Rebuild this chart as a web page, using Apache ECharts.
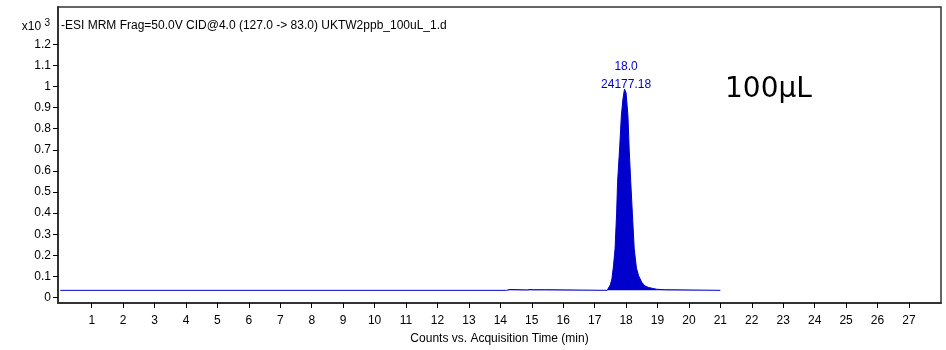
<!DOCTYPE html>
<html>
<head>
<meta charset="utf-8">
<title>MRM chromatogram</title>
<script src="https://cdn.jsdelivr.net/npm/echarts@6/dist/echarts.min.js"></script>
<style>
  html, body { margin: 0; padding: 0; background: #fff; }
  #chart { width: 946px; height: 350px; }
</style>
</head>
<body>
<div id="chart"></div>
<script>
// 色谱图数据 (x: min, y: counts x10^3)
const retTime = [0, 14.2, 14.3, 14.36, 14.85, 14.95, 15.05, 15.1, 15.43, 15.46, 17.4, 17.44, 17.5, 17.55, 17.6, 17.65, 17.7, 17.73, 17.8, 17.85, 17.9, 17.95, 18.0, 18.06, 18.1, 18.15, 18.2, 18.26, 18.33, 18.4, 18.5, 18.6, 18.71, 18.85, 18.98, 19.25, 19.3, 21.0]
const counts = [0.034, 0.034, 0.038, 0.034, 0.036, 0.038, 0.037, 0.034, 0.037, 0.034, 0.034, 0.037, 0.06, 0.088, 0.15, 0.23, 0.40, 0.545, 0.72, 0.86, 0.94, 0.988, 0.97, 0.86, 0.70, 0.545, 0.40, 0.23, 0.14, 0.103, 0.072, 0.055, 0.048, 0.043, 0.039, 0.037, 0.034, 0.034]
const baseline = 0.034
const xTicks = [1, 2, 3, 4, 5, 6, 7, 8, 9, 10, 11, 12, 13, 14, 15, 16, 17, 18, 19, 20, 21, 22, 23, 24, 25, 26, 27]
const yTicks = [0, 0.1, 0.2, 0.3, 0.4, 0.5, 0.6, 0.7, 0.8, 0.9, 1, 1.1, 1.2]
const peakRT = 18.0
const peakTop = 0.988
const peakArea = '24177.18'
const titleText = '-ESI MRM Frag=50.0V CID@4.0 (127.0 -> 83.0) UKTW2ppb_100uL_1.d'

const font = 'Liberation Sans, Arial, sans-serif'
const blue = '#0000CC'

let chart = echarts.init(document.getElementById('chart'), null, {renderer: 'canvas'})

let option = {
  backgroundColor: '#fff',
  animation: false,
  grid: {
    left: 58,
    right: 5,
    top: 7,
    bottom: 46,
    show: true,
    borderColor: '#333',
    borderWidth: 1.5,
  },
  xAxis: {
    type: 'value',
    min: -0.073,
    max: 28.02,
    name: 'Counts vs. Acquisition Time (min)',
    nameLocation: 'middle',
    nameGap: 30,
    nameTextStyle: {color: '#000', fontFamily: font, fontSize: 12},
    axisLine: {show: true, onZero: false, lineStyle: {color: '#333', width: 2}},
    axisTick: {show: true, length: 5, lineStyle: {color: '#000'}, customValues: xTicks},
    axisLabel: {color: '#000', fontFamily: font, fontSize: 12, margin: 12, customValues: xTicks},
    splitLine: {show: false},
  },
  yAxis: {
    type: 'value',
    min: -0.026,
    max: 1.377,
    axisLine: {show: true, onZero: false, lineStyle: {color: '#333', width: 2}},
    axisTick: {show: true, length: 5, lineStyle: {color: '#000'}, customValues: yTicks},
    axisLabel: {color: '#000', fontFamily: font, fontSize: 12, margin: 7, customValues: yTicks,
      formatter: v => String(Math.round(v * 10) / 10)},
    splitLine: {show: false},
  },
  graphic: [
    {
      type: 'text', right: 896, top: 18,
      style: {
        text: '{a|x10 }{b|3}',
        rich: {
          a: {fontFamily: font, fontSize: 12, fill: '#000', verticalAlign: 'bottom'},
          b: {fontFamily: font, fontSize: 10, fill: '#000', verticalAlign: 'top', padding: [0, 0, 5, 0]},
        },
      },
    },
    {
      type: 'text', left: 61, top: 20,
      style: {text: titleText, fontFamily: font, fontSize: 12, fill: '#000'},
    },
    {
      type: 'text', left: 725, top: 76,
      style: {text: '100μL', fontFamily: 'DejaVu Sans, sans-serif', fontSize: 28, fill: '#000'},
    },
  ],
  series: [
    {
      type: 'line',
      data: retTime.map((t, i) => [t, counts[i]]),
      showSymbol: false,
      symbol: 'none',
      lineStyle: {color: blue, width: 1},
      areaStyle: {color: blue, opacity: 1, origin: baseline},
      markPoint: {
        symbol: 'circle',
        symbolSize: 0,
        data: [{coord: [peakRT, peakTop]}],
        label: {
          show: true,
          position: 'top',
          distance: -5,
          color: blue,
          fontFamily: font,
          fontSize: 12,
          lineHeight: 18,
          formatter: peakRT.toFixed(1) + '\n' + peakArea,
        },
      },
    },
  ],
}

chart.setOption(option)
</script>
</body>
</html>
